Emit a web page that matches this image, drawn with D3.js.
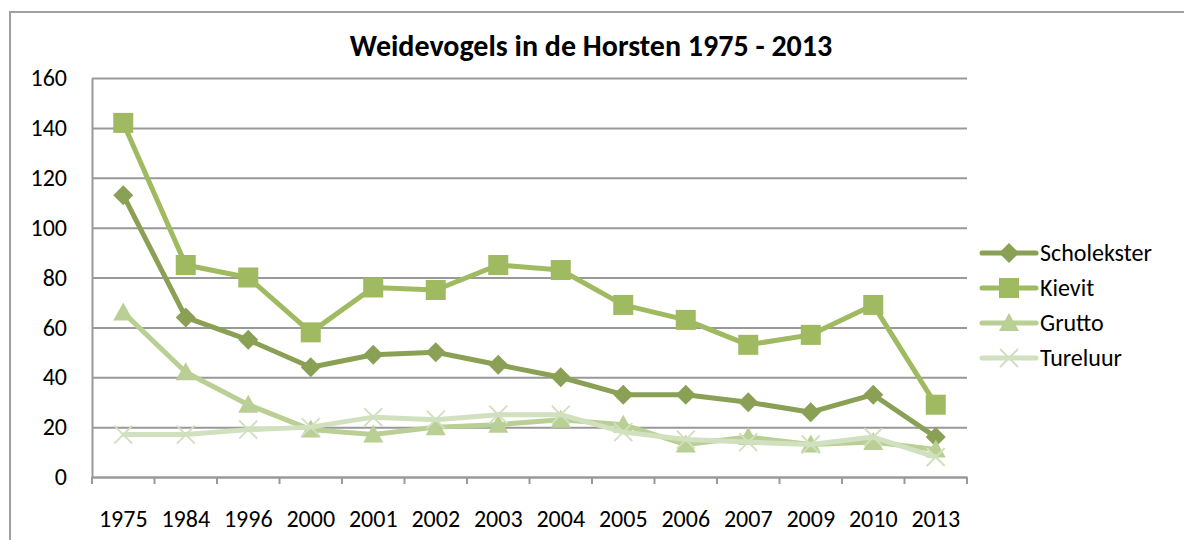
<!DOCTYPE html>
<html>
<head>
<meta charset="utf-8">
<script src="https://cdn.jsdelivr.net/npm/d3@7"></script>
<style>
  body { margin: 0; background: #fff; }
  text { font-family: Carlito, Lato, sans-serif; fill: #000; }
</style>
</head>
<body>
<script>
'use strict';

const width = 1184;
const height = 540;

const years = ["1975", "1984", "1996", "2000", "2001", "2002", "2003", "2004", "2005", "2006", "2007", "2009", "2010", "2013"];
const scholekster = [113, 64, 55, 44, 49, 50, 45, 40, 33, 33, 30, 26, 33, 16];
const kievit = [142, 85, 80, 58, 76, 75, 85, 83, 69, 63, 53, 57, 69, 29];
const grutto = [66, 42, 29, 19, 17, 20, 21, 23, 21, 13, 16, 13, 14, 11];
const tureluur = [17, 17, 19, 20, 24, 23, 25, 25, 18, 15, 14, 13, 16, 8];
const yTicks = [0, 20, 40, 60, 80, 100, 120, 140, 160];

const series = [
    {name: "Scholekster", values: scholekster, color: "#8aa055", marker: "diamond"},
    {name: "Kievit", values: kievit, color: "#9fba60", marker: "square"},
    {name: "Grutto", values: grutto, color: "#b9cf93", marker: "triangle"},
    {name: "Tureluur", values: tureluur, color: "#d1e0bf", marker: "cross"}
];

const plot = {left: 92, right: 967, top: 78, bottom: 477};

const svg = d3.select("body")
    .append("svg")
    .attr("width", width)
    .attr("height", height);

// chart frame
svg.append("rect")
    .attr("x", 10)
    .attr("y", 12)
    .attr("width", 1300)
    .attr("height", 700)
    .attr("fill", "none")
    .attr("stroke", "#a0a0a0")
    .attr("stroke-width", 2);

svg.append("text")
    .attr("x", 591)
    .attr("y", 56)
    .attr("text-anchor", "middle")
    .attr("font-size", 30)
    .attr("font-weight", "bold")
    .text("Weidevogels in de Horsten 1975 - 2013");

let x = d3.scaleBand()
    .domain(years)
    .range([plot.left, plot.right])
    .padding(0);

let y = d3.scaleLinear()
    .domain([0, 160])
    .range([plot.bottom, plot.top]);

// y axis with gridlines
let yAxis = svg.append("g")
    .attr("transform", "translate(" + plot.left + ",0)")
    .call(d3.axisLeft(y)
        .tickValues(yTicks)
        .tickSizeInner(-(plot.right - plot.left))
        .tickSizeOuter(0)
        .tickPadding(25));
yAxis.select(".domain").attr("stroke", "#999").attr("stroke-width", 2);
yAxis.selectAll(".tick line").attr("stroke", "#999").attr("stroke-width", 2);
yAxis.selectAll(".tick text").attr("font-size", 24).attr("font-family", null);

// x axis
let xAxis = svg.append("g")
    .attr("transform", "translate(0," + plot.bottom + ")")
    .call(d3.axisBottom(x).tickSize(0).tickPadding(33));
xAxis.select(".domain").attr("stroke", "#999").attr("stroke-width", 2);
xAxis.selectAll(".tick text").attr("font-size", 24).attr("font-family", null);

// boundary tick marks between categories
let bounds = years.map(d => x(d)).concat([x.range()[1]]);
xAxis.selectAll(".bound")
    .data(bounds)
    .enter()
    .append("line")
    .attr("class", "bound")
    .attr("x1", d => d)
    .attr("x2", d => d)
    .attr("y1", 0)
    .attr("y2", 7)
    .attr("stroke", "#999")
    .attr("stroke-width", 2);

let line = d3.line()
    .x((d, i) => x(years[i]) + x.bandwidth() / 2)
    .y(d => y(d));

function drawMarker(g, type, color) {
    if (type === "diamond") {
        g.append("path").attr("d", "M0,-10L10,0L0,10L-10,0Z").attr("fill", color);
    } else if (type === "square") {
        g.append("rect").attr("x", -10).attr("y", -10).attr("width", 20).attr("height", 20).attr("fill", color);
    } else if (type === "triangle") {
        g.append("path").attr("d", "M0,-10L10,8L-10,8Z").attr("fill", color);
    } else {
        g.append("path").attr("d", "M-9,-9L9,9M-9,9L9,-9")
            .attr("stroke", color).attr("stroke-width", 2).attr("fill", "none");
    }
}

series.forEach(s => {
    let g = svg.append("g");
    g.append("path")
        .attr("d", line(s.values))
        .attr("fill", "none")
        .attr("stroke", s.color)
        .attr("stroke-width", 5)
        .attr("stroke-linejoin", "round");
    g.selectAll("g")
        .data(s.values)
        .enter()
        .append("g")
        .attr("transform", (d, i) => "translate(" + (x(years[i]) + x.bandwidth() / 2) + "," + y(d) + ")")
        .each(function () { drawMarker(d3.select(this), s.marker, s.color); });
});

// legend
let legend = svg.append("g")
    .selectAll("g")
    .data(series)
    .enter()
    .append("g")
    .attr("transform", (d, i) => "translate(982," + (253 + i * 35) + ")");

legend.append("line")
    .attr("x1", 0)
    .attr("x2", 54)
    .attr("stroke", d => d.color)
    .attr("stroke-width", 5)
    .attr("stroke-linecap", "round");

legend.append("g")
    .attr("transform", "translate(27,0)")
    .each(function (d) { drawMarker(d3.select(this), d.marker, d.color); });

legend.append("text")
    .attr("x", 58)
    .attr("dy", "0.35em")
    .attr("font-size", 24)
    .text(d => d.name);
</script>
</body>
</html>
